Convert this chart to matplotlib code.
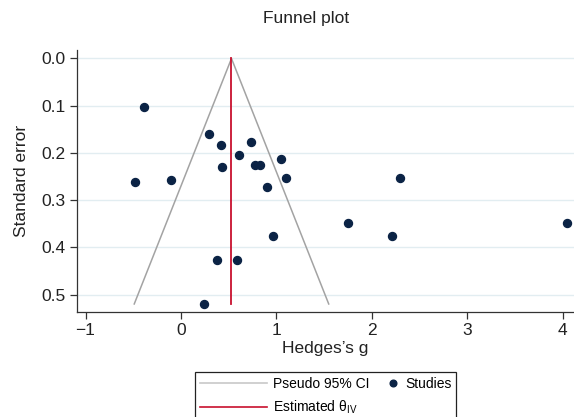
import matplotlib
matplotlib.use("Agg")
import matplotlib.pyplot as plt
from matplotlib.lines import Line2D
from matplotlib.legend_handler import HandlerLine2D

plt.rcParams['font.family'] = ['Liberation Sans', 'DejaVu Sans']

# study effect sizes (Hedges's g) and standard errors
hedges_g = [-0.39, -0.48, -0.10, 0.29, 0.415, 0.43, 0.61, 0.73, 0.78, 0.83,
            0.90, 1.05, 1.10, 0.97, 0.38, 0.59, 0.24, 1.75, 2.21, 2.30, 4.05]
std_err = [0.103, 0.261, 0.257, 0.160, 0.184, 0.230, 0.204, 0.177, 0.225, 0.225,
           0.272, 0.213, 0.254, 0.376, 0.426, 0.426, 0.519, 0.349, 0.377, 0.254, 0.348]
theta_iv = 0.53
se_max = 0.52
z = 1.96

x_ticks = [-1, 0, 1, 2, 3, 4]
y_ticks = [0.0, 0.1, 0.2, 0.3, 0.4, 0.5]

NAVY = '#0b2345'
RED = '#c8102e'
GREY = '#a3a3a3'


class DotRight(HandlerLine2D):
    # put the legend marker at the right end of the handle box
    def get_xdata(self, legend, xdescent, ydescent, width, height, fontsize):
        return [-xdescent + width - 4], [-xdescent + width - 4]


fig = plt.figure(figsize=(5.74, 4.17), dpi=100)
ax = fig.add_axes([0.134, 1 - 312 / 417, 0.866, 262 / 417])

ax.plot([theta_iv - z * se_max, theta_iv, theta_iv + z * se_max], [se_max, 0, se_max],
        color=GREY, lw=1.1, zorder=2)
ax.plot([theta_iv, theta_iv], [0, se_max], color=RED, lw=1.3, zorder=3)
ax.scatter(hedges_g, std_err, s=33, color=NAVY, zorder=4, clip_on=False)

ax.set_xlim(-1.09, 4.12)
ax.set_ylim(0.537, -0.018)
ax.set_xticks(x_ticks)
ax.set_yticks(y_ticks)
ax.set_yticklabels([f'{v:.1f}' for v in y_ticks])
ax.tick_params(labelsize=12.5, length=5, width=0.9, color='#333333', pad=3,
               labelcolor='#222222')
ax.grid(axis='y', color='#e2edf1', lw=1)
ax.set_axisbelow(True)
for s in ['top', 'right']:
    ax.spines[s].set_visible(False)
for s in ['left', 'bottom']:
    ax.spines[s].set_color('#333333')
    ax.spines[s].set_linewidth(0.9)

ax.set_xlabel("Hedges\u2019s g", fontsize=12.5, labelpad=2, color='#222222')
ax.set_ylabel('Standard error', fontsize=12.5, labelpad=9, color='#222222')
fig.text(0.533, 1 - 19 / 417, 'Funnel plot', ha='center', va='center', fontsize=12.5,
         color='#222222')

h_ci = Line2D([], [], color='#c8c8c8', lw=1.2)
h_est = Line2D([], [], color=RED, lw=1.2)
h_st = Line2D([], [], color=NAVY, marker='o', ls='none', markersize=4.8)
leg = fig.legend([h_ci, h_est, h_st],
                 ['Pseudo 95% CI', 'Estimated θ$_{\\mathregular{IV}}$', 'Studies'],
                 ncol=2, loc='upper left', bbox_to_anchor=(195 / 574, 1 - 372 / 417),
                 fontsize=10, handlelength=4.85, handletextpad=0.43, columnspacing=-2.73,
                 borderpad=0.34, labelspacing=0.6, fancybox=False, framealpha=1,
                 borderaxespad=0, edgecolor='#222222',
                 handler_map={h_st: DotRight(numpoints=1)})
leg.get_frame().set_linewidth(0.9)

fig.savefig('out.png', dpi=100)
